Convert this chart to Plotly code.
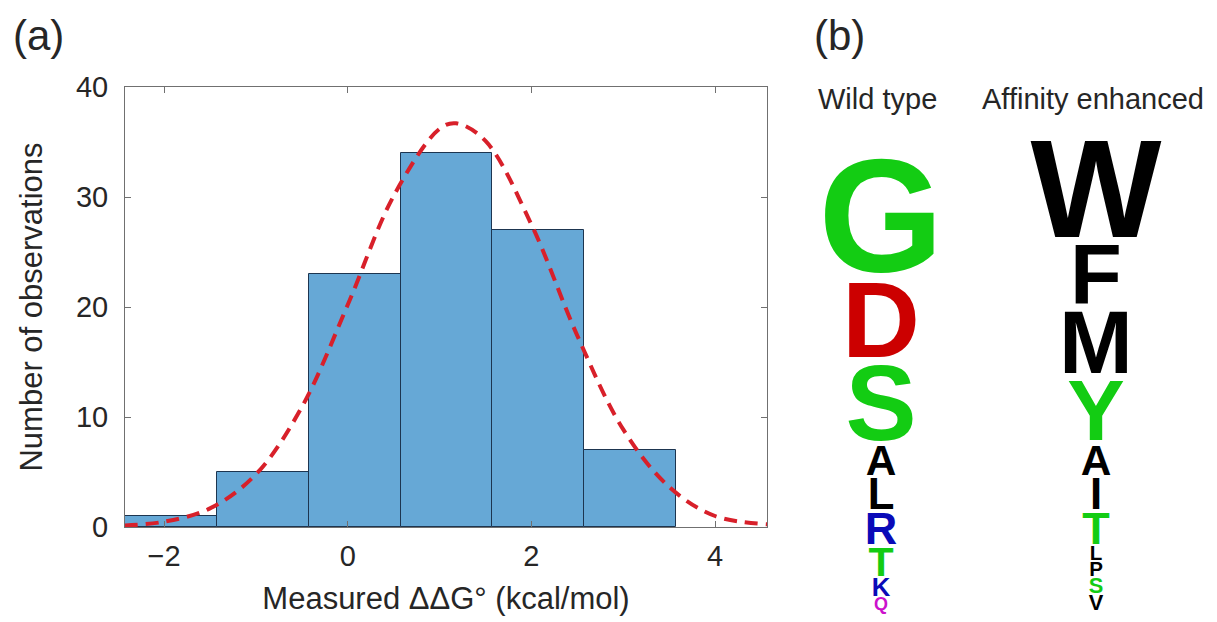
import plotly.graph_objects as go

# ---------------- data: panel (a) histogram ----------------
bin_centers = [-1.925, -0.925, 0.075, 1.075, 2.075, 3.075]
bin_counts = [1, 5, 23, 34, 27, 7]
bin_width = 1.0

# fitted normal curve
fit_x = [-2.43, -2.0, -1.5, -1.0, -0.5, 0.0, 0.5, 1.0, 1.18, 1.5, 2.0, 2.5, 3.0, 3.5, 4.0, 4.57]
fit_y = [0.14, 0.48, 1.69, 4.79, 10.9, 20.2, 30.1, 36.2, 36.7, 35.1, 27.5, 17.4, 8.87, 3.65, 1.0, 0.25]

x_ticks = [-2, 0, 2, 4]
y_ticks = [0, 10, 20, 30, 40]

# ---------------- data: panel (b) sequence logos (top -> bottom) ----------------
wt_letters = ["G", "D", "S", "A", "L", "R", "T", "K", "Q"]
wt_heights = [1.25, 0.84, 0.83, 0.33, 0.34, 0.35, 0.32, 0.20, 0.14]
ae_letters = ["W", "F", "M", "Y", "A", "I", "T", "L", "P", "S", "V"]
ae_heights = [1.08, 0.66, 0.69, 0.67, 0.33, 0.34, 0.35, 0.16, 0.16, 0.17, 0.17]
column_names = ["Wild type", "Affinity enhanced"]

# ---------------- styles ----------------
W, H = 1217, 622
OFF = 8  # page body margin offset
GREEN, RED, BLUE, MAGENTA, BLACK = "#13cc13", "#cc0000", "#0a0ab8", "#cc11cc", "#000000"
letter_color = {"G": GREEN, "S": GREEN, "T": GREEN, "Y": GREEN, "C": GREEN,
                "D": RED, "E": RED,
                "R": BLUE, "K": BLUE, "H": BLUE,
                "Q": MAGENTA, "N": MAGENTA}
PX_PER_BIT = 100.0
FILL = 0.92
CAP = 0.716


def px(xp):
    return (xp - OFF) / W


def py(yp):
    return (H - (yp - OFF)) / H


fig = go.Figure()

fig.add_trace(go.Bar(
    x=bin_centers, y=bin_counts, width=bin_width,
    marker=dict(color="#66a8d6", line=dict(color="#1d3550", width=1)),
    xaxis="x", yaxis="y", showlegend=False,
))
fig.add_trace(go.Scatter(
    x=fit_x, y=fit_y, mode="lines", line_shape="spline",
    line=dict(color="#d8202a", width=4, dash="13px,8px"),
    xaxis="x", yaxis="y", showlegend=False, cliponaxis=False,
))


def logo_trace(letters, heights, col):
    ys, sizes, cols, xs = [], [], [], []
    bottom = 0.0
    for letter, h in reversed(list(zip(letters, heights))):
        fs = h * PX_PER_BIT * FILL / CAP
        center = bottom + h / 2.0
        ys.append(center - 0.108 * fs / PX_PER_BIT)
        sizes.append(fs)
        cols.append(letter_color.get(letter, BLACK))
        xs.append(col)
        bottom += h
    return go.Scatter(
        x=xs, y=ys, mode="text", text=list(reversed(letters)),
        textposition="middle center",
        textfont=dict(family="Liberation Sans", size=sizes, color=cols, weight="bold"),
        xaxis="x2", yaxis="y2", showlegend=False, cliponaxis=False, hoverinfo="skip",
    )


fig.add_trace(logo_trace(wt_letters, wt_heights, 0))
fig.add_trace(logo_trace(ae_letters, ae_heights, 1))

AX = "#707070"
TXT = "#262626"
FONT = "Liberation Sans"

fig.update_layout(
    width=W, height=H,
    margin=dict(l=0, r=0, t=0, b=0, autoexpand=False),
    paper_bgcolor="white", plot_bgcolor="white",
    font=dict(family=FONT, color=TXT),
    bargap=0,
    xaxis=dict(
        domain=[px(125), px(767)], range=[-2.426, 4.566],
        tickvals=x_ticks, ticks="inside", ticklen=6, tickcolor=AX,
        showline=True, linecolor=AX, linewidth=1, mirror="ticks",
        showgrid=False, zeroline=False, automargin=False,
        tickfont=dict(size=29, color=TXT), ticklabelstandoff=3,
        title=dict(text="Measured ΔΔG° (kcal/mol)", font=dict(size=31, color=TXT), standoff=16),
    ),
    yaxis=dict(
        domain=[py(527), py(87)], range=[0, 40],
        tickvals=y_ticks, ticks="inside", ticklen=6, tickcolor=AX,
        showline=True, linecolor=AX, linewidth=1, mirror="ticks",
        showgrid=False, zeroline=False, automargin=False,
        tickfont=dict(size=29, color=TXT), ticklabelstandoff=10,
        title=dict(text="Number of observations", font=dict(size=31, color=TXT), standoff=24),
    ),
    xaxis2=dict(
        domain=[px(800), 1.0], range=[-81 / 215, -81 / 215 + (W - 792) / 215],
        visible=False, fixedrange=True,
    ),
    yaxis2=dict(
        domain=[py(611), py(111)], range=[0, 5.0],
        visible=False, fixedrange=True, anchor="x2",
    ),
    annotations=[
        dict(text="(a)", x=px(38), y=py(35), xref="paper", yref="paper",
             showarrow=False, font=dict(size=42, color=TXT), xanchor="center", yanchor="middle"),
        dict(text="(b)", x=px(839), y=py(35), xref="paper", yref="paper",
             showarrow=False, font=dict(size=42, color=TXT), xanchor="center", yanchor="middle"),
        dict(text=column_names[0], x=px(877), y=py(98.5), xref="paper", yref="paper",
             showarrow=False, font=dict(size=29, color=TXT), xanchor="center", yanchor="middle"),
        dict(text=column_names[1], x=px(1093), y=py(98.5), xref="paper", yref="paper",
             showarrow=False, font=dict(size=29, color=TXT), xanchor="center", yanchor="middle"),
    ],
)

fig.write_html("out.html")
